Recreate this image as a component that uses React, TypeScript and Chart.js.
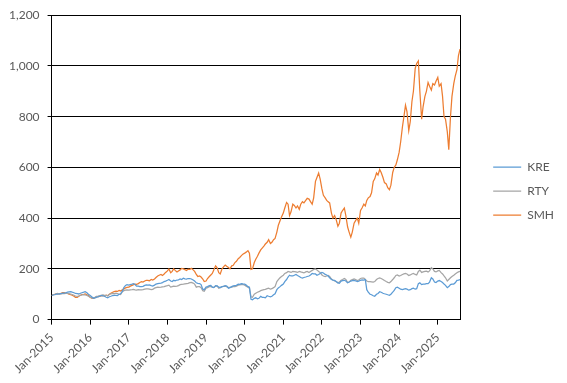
import React, { useEffect, useRef } from "react";
import { Chart, registerables } from "chart.js";

Chart.register(...registerables);

// Semi-monthly observations (1st and 15th), Jan 2015 .. Jul 2025, plus the last reading
const dates: string[] = (() => {
  const out: string[] = [];
  for (let y = 2015; y <= 2025; y++) {
    for (let m = 1; m <= 12; m++) {
      if (y === 2025 && m > 7) break;
      const mm = String(m).padStart(2, "0");
      out.push(`${y}-${mm}-01`, `${y}-${mm}-15`);
    }
  }
  out.push("2025-07-30");
  return out;
})();

const KRE: number[] = [
  95, 97, 98, 100, 100, 101, 102, 104, 104, 106, 108, 109, 110, 108, 106, 103, 102, 101, 104, 106, 108, 110, 106, 100,
  95, 90, 84, 86, 88, 90, 92, 95, 94, 92, 88, 86, 90, 92, 95, 96, 96, 95, 100, 102, 112, 126, 135, 138,
  136, 138, 140, 142, 138, 132, 132, 130, 130, 131, 135, 137, 136, 137, 134, 132, 136, 140, 142, 143, 144, 146, 150, 152,
  155, 158, 152, 150, 155, 153, 156, 157, 160, 158, 163, 161, 160, 162, 162, 160, 156, 152, 145, 143, 142, 138, 120, 118,
  128, 130, 134, 135, 128, 126, 134, 133, 128, 126, 130, 131, 134, 132, 124, 126, 130, 133, 134, 135, 140, 139, 142, 141,
  140, 136, 130, 128, 80, 78, 84, 86, 82, 84, 92, 88, 88, 86, 94, 92, 90, 92, 98, 102, 118, 125, 130, 135,
  140, 150, 158, 168, 175, 172, 172, 175, 178, 174, 170, 166, 164, 166, 168, 170, 172, 176, 182, 180, 180, 175, 178, 182,
  186, 184, 178, 176, 172, 165, 158, 156, 155, 150, 145, 143, 152, 154, 155, 152, 145, 148, 152, 154, 155, 153, 150, 152,
  155, 157, 156, 158, 118, 108, 100, 98, 94, 92, 100, 103, 110, 108, 104, 102, 100, 98, 96, 100, 108, 115, 126, 128,
  124, 120, 118, 120, 122, 120, 116, 118, 122, 124, 120, 122, 142, 145, 138, 140, 140, 142, 142, 148, 165, 160, 148, 146,
  152, 154, 150, 146, 140, 135, 126, 130, 138, 140, 140, 145, 155, 156,
  158,
];

const RTY: number[] = [
  95, 98, 100, 101, 102, 101, 101, 102, 102, 103, 103, 102, 101, 99, 96, 93, 92, 93, 96, 97, 98, 97, 95, 92,
  88, 86, 86, 88, 92, 93, 95, 96, 97, 96, 96, 94, 100, 101, 103, 102, 104, 103, 100, 99, 110, 114, 116, 117,
  116, 117, 118, 119, 117, 116, 118, 117, 117, 118, 120, 121, 121, 120, 118, 119, 124, 126, 128, 127, 128, 129, 130, 132,
  134, 136, 128, 130, 132, 131, 132, 134, 138, 139, 140, 141, 142, 143, 146, 147, 144, 140, 128, 130, 130, 126, 114, 112,
  124, 126, 130, 131, 128, 127, 132, 133, 124, 126, 130, 131, 132, 130, 126, 127, 128, 130, 130, 132, 136, 137, 138, 139,
  136, 132, 128, 124, 90, 88, 100, 104, 108, 110, 114, 116, 118, 119, 122, 124, 120, 122, 126, 130, 150, 158, 165, 170,
  175, 182, 185, 190, 188, 186, 190, 189, 188, 186, 190, 188, 186, 184, 188, 190, 186, 190, 194, 198, 200, 196, 190, 186,
  176, 172, 170, 172, 174, 170, 160, 156, 152, 150, 145, 148, 155, 158, 162, 158, 146, 148, 155, 158, 160, 158, 154, 156,
  162, 164, 164, 158, 152, 150, 150, 149, 148, 150, 158, 162, 164, 162, 158, 154, 150, 147, 145, 150, 158, 165, 174, 176,
  172, 174, 178, 180, 182, 180, 174, 176, 180, 182, 178, 176, 190, 195, 186, 188, 190, 191, 188, 192, 205, 200, 190, 188,
  192, 194, 185, 180, 172, 165, 152, 158, 165, 170, 175, 180, 185, 188,
  190,
];

const SMH: number[] = [
  95, 98, 100, 102, 103, 101, 104, 106, 106, 104, 103, 100, 98, 96, 92, 88, 88, 92, 96, 99, 100, 101, 98, 95,
  88, 85, 84, 86, 90, 91, 92, 94, 95, 93, 96, 94, 100, 104, 108, 110, 112, 111, 115, 113, 118, 121, 125, 127,
  128, 132, 135, 138, 140, 139, 142, 146, 150, 148, 152, 155, 155, 153, 158, 156, 160, 166, 172, 175, 178, 174, 180, 186,
  192, 200, 185, 190, 200, 194, 188, 192, 196, 202, 200, 197, 194, 199, 198, 202, 196, 190, 178, 170, 172, 168, 160, 150,
  152, 162, 170, 176, 182, 196, 212, 205, 185, 180, 200, 208, 215, 210, 205, 200, 212, 214, 225, 230, 240, 245, 252, 258,
  262, 266, 272, 262, 198, 200, 225, 238, 250, 262, 275, 282, 290, 298, 305, 315, 300, 305, 315, 320, 345, 372, 390, 405,
  420, 440, 462, 455, 410, 425, 455, 450, 440, 448, 435, 455, 465, 460, 470, 478, 475, 465, 455, 480, 545, 560, 578, 555,
  515, 490, 480, 470, 465, 460, 420, 400, 410, 395, 368, 380, 420, 430, 440, 410, 365, 345, 325, 345, 380, 390, 400, 380,
  430, 440, 455, 448, 470, 480, 485, 500, 545, 555, 578, 570, 592, 580, 560, 540, 535, 520, 512, 530, 580, 600, 610, 630,
  660, 700, 760, 800, 845, 820, 745, 780, 860, 900, 990, 1010, 1020, 900, 790, 840, 880, 900, 935, 920, 905, 930, 925, 940,
  955, 920, 930, 880, 800, 790, 740, 670, 800, 880, 930, 960, 985, 1040,
  1066,
];

const yTicks: number[] = [0, 200, 400, 600, 800, 1000, 1200];
const xTickLabels: string[] = [
  "Jan-2015", "Jan-2016", "Jan-2017", "Jan-2018", "Jan-2019", "Jan-2020",
  "Jan-2021", "Jan-2022", "Jan-2023", "Jan-2024", "Jan-2025",
];

const FONT = "Lato, 'Noto Sans', sans-serif";
const TEXT = "#595959";

function toYear(d: string): number {
  const [y, m, day] = d.split("-").map(Number);
  const start = Date.UTC(y, 0, 1);
  const end = Date.UTC(y + 1, 0, 1);
  return y + (Date.UTC(y, m - 1, day) - start) / (end - start);
}

function series(values: number[]) {
  return values.map((v, i) => ({ x: toYear(dates[i]), y: v }));
}

const legendShift = {
  id: "legendShift",
  afterLayout(chart: any) {
    if (chart.legend) chart.legend.bottom -= 9;
  },
};

export default function App() {
  const ref = useRef<HTMLCanvasElement | null>(null);
  useEffect(() => {
    document.body.style.margin = "0";
    const canvas = ref.current!;
    const chart = new Chart(canvas, {
      type: "line",
      data: {
        datasets: [
          { label: "KRE", data: series(KRE), borderColor: "#5B9BD5", backgroundColor: "#5B9BD5", borderWidth: 1.25, pointRadius: 0, tension: 0 },
          { label: "RTY", data: series(RTY), borderColor: "#A5A5A5", backgroundColor: "#A5A5A5", borderWidth: 1.25, pointRadius: 0, tension: 0 },
          { label: "SMH", data: series(SMH), borderColor: "#ED7D31", backgroundColor: "#ED7D31", borderWidth: 1.25, pointRadius: 0, tension: 0 },
        ],
      },
      plugins: [legendShift],
      options: {
        animation: false,
        responsive: false,
        maintainAspectRatio: false,
        layout: { padding: { left: 1, top: 9, right: 3, bottom: 1 } },
        plugins: {
          legend: {
            position: "right",
            labels: {
              usePointStyle: true,
              pointStyle: "line",
              pointStyleWidth: 28,
              padding: 12,
              color: TEXT,
              font: { family: FONT, size: 12 },
            },
          },
          tooltip: { enabled: false },
        },
        scales: {
          x: {
            type: "linear",
            min: toYear(dates[0]),
            max: 2025.58,
            afterBuildTicks: (scale: any) => {
              scale.ticks = scale.ticks.filter((t: any) => Math.abs(t.value - Math.round(t.value)) < 1e-6);
            },
            ticks: {
              stepSize: 1,
              autoSkip: false,
              minRotation: 45,
              maxRotation: 45,
              color: TEXT,
              font: { family: FONT, size: 12 },
              padding: 6,
              callback: (v: any) => xTickLabels[Math.round(Number(v)) - 2015] ?? "",
            },
            grid: { drawOnChartArea: false, color: "#000", tickLength: 5 },
            border: { color: "#000", width: 1 },
          },
          y: {
            min: 0,
            max: 1200,
            afterBuildTicks: (scale: any) => {
              scale.ticks = yTicks.map((v) => ({ value: v }));
            },
            ticks: {
              stepSize: 200,
              color: TEXT,
              font: { family: FONT, size: 12 },
              padding: 8,
              callback: (v: any) => Number(v).toLocaleString("en-US"),
            },
            grid: { color: "#000", lineWidth: 1, tickLength: 4 },
            border: { color: "#000", width: 1 },
          },
          y2: {
            position: "right",
            display: true,
            min: 0,
            max: 1200,
            grid: { display: false },
            ticks: { display: false },
            border: { display: true, color: "#000", width: 1 },
            afterFit: (scale: any) => {
              scale.width = 21;
            },
          },
        },
      },
    });
    return () => chart.destroy();
  }, []);
  return (
    <div style={{ position: "absolute", left: 0, top: 0, width: 567, height: 383 }}>
      <canvas ref={ref} width={567} height={383} style={{ width: 567, height: 383 }} />
    </div>
  );
}
